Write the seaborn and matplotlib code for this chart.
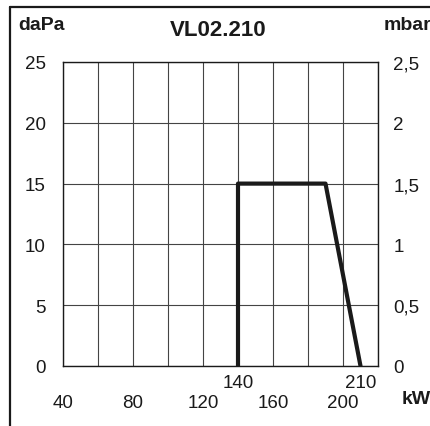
import matplotlib
matplotlib.use("Agg")
import matplotlib.pyplot as plt
import seaborn as sns
import pandas as pd
from matplotlib.lines import Line2D

# Data
kw = [140, 140, 190, 210]
dapa = [0, 15, 15, 0]
x_grid = [40, 60, 80, 100, 120, 140, 160, 180, 200, 220]
x_labels = ["40", "", "80", "", "120", "", "160", "", "200", ""]
x_marks = [140, 210]
y_ticks = [0, 5, 10, 15, 20, 25]
y_right_labels = ["0", "0,5", "1", "1,5", "2", "2,5"]

sns.set_theme(style="white")
plt.rcParams["font.family"] = ["Liberation Sans", "DejaVu Sans"]

fig = plt.figure(figsize=(4.31, 4.27), dpi=100)
ax = fig.add_axes([63/431, 1 - 367/427, 315/431, 304/427])

df = pd.DataFrame({"kW": kw, "daPa": dapa})
sns.lineplot(data=df, x="kW", y="daPa", ax=ax, sort=False, color="#1a1a1a",
             linewidth=3.0, estimator=None, zorder=5)

ax.xaxis.remove_overlapping_locs = False
ax.set_xlim(40, 220)
ax.set_ylim(0, 25)
ax.set_xticks(x_grid)
ax.set_xticklabels(x_labels)
ax.set_xticks(x_marks, minor=True)
ax.set_xticklabels([str(v) for v in x_marks], minor=True)
ax.set_yticks(y_ticks)
ax.set_yticklabels([str(v) for v in y_ticks])
ax.grid(True, which="major", color="#444444", linewidth=0.8)
ax.tick_params(axis="x", which="major", length=0, pad=20, labelsize=13.5, colors="#1a1a1a")
ax.tick_params(axis="x", which="minor", length=0, pad=5.5, labelsize=13.5, colors="#1a1a1a")
ax.tick_params(axis="y", which="major", length=0, pad=12.5, labelsize=13.5, colors="#1a1a1a")
ax.set_xlabel("")
ax.set_ylabel("")
for s in ax.spines.values():
    s.set_visible(True)
    s.set_color("#1a1a1a")
    s.set_linewidth(1.0)

ax2 = ax.twinx()
ax2.set_ylim(0, 25)
ax2.set_yticks(y_ticks)
ax2.set_yticklabels(y_right_labels)
ax2.tick_params(axis="y", length=0, pad=11, labelsize=13.5, colors="#1a1a1a")
ax2.grid(False)
for s in ax2.spines.values():
    s.set_visible(False)

fig.text(18/431, 1 - 26/427, "daPa", fontsize=14, fontweight="bold", ha="left", va="center", color="#1a1a1a")
fig.text(218/431, 1 - 31/427, "VL02.210", fontsize=16, fontweight="bold", ha="center", va="center", color="#1a1a1a")
fig.text(431/431, 1 - 26/427, "mbar", fontsize=14, fontweight="bold", ha="right", va="center", color="#1a1a1a")
fig.text(431/431, 1 - 400/427, "kW", fontsize=14, fontweight="bold", ha="right", va="center", color="#1a1a1a")

# frame lines (left and top)
fig.add_artist(Line2D([10/431, 10/431], [0, 1 - 8/427], transform=fig.transFigure, color="#1a1a1a", linewidth=1.6))
fig.add_artist(Line2D([10/431, 1], [1 - 8/427, 1 - 8/427], transform=fig.transFigure, color="#1a1a1a", linewidth=1.6))

fig.savefig("out.png", dpi=100)
